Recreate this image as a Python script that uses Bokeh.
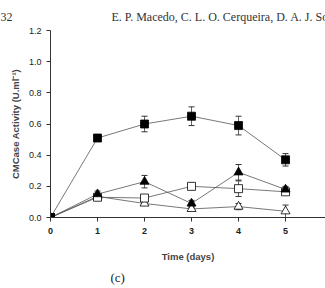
from bokeh.plotting import figure
from bokeh.models import ColumnDataSource, Whisker, Title, Range1d, FixedTicker, CustomJSTickFormatter
from bokeh.embed import file_html
from bokeh.resources import INLINE

days = [0, 1, 2, 3, 4, 5]
filled_sq = [0.0, 0.51, 0.60, 0.65, 0.59, 0.37]
filled_sq_err = [0.0, 0.02, 0.05, 0.06, 0.06, 0.04]
filled_tri = [0.0, 0.15, 0.23, 0.09, 0.29, 0.18]
filled_tri_err = [0.0, 0.02, 0.04, 0.02, 0.05, 0.02]
open_sq = [0.0, 0.13, 0.125, 0.20, 0.185, 0.165]
open_sq_err = [0.0, 0.01, 0.01, 0.02, 0.05, 0.01]
open_tri = [0.0, 0.135, 0.09, 0.055, 0.07, 0.04]
open_tri_err = [0.0, 0.01, 0.01, 0.01, 0.02, 0.04]
x_ticks = [0, 1, 2, 3, 4, 5]
y_ticks = [0.0, 0.2, 0.4, 0.6, 0.8, 1.0, 1.2]

p = figure(width=325, height=288, output_backend="svg", toolbar_location=None,
           x_range=Range1d(0, 5.85), y_range=Range1d(0, 1.2),
           min_border_left=50, min_border_right=0, min_border_top=29, min_border_bottom=70)
p.outline_line_color = None
p.xgrid.visible = False
p.ygrid.visible = False
p.background_fill_color = "white"
p.border_fill_color = "white"

for ax in (p.xaxis[0], p.yaxis[0]):
    ax.axis_line_color = "#333333"
    ax.major_tick_line_color = "#333333"
    ax.minor_tick_line_color = None
    ax.major_tick_in = 0
    ax.major_tick_out = 4
    ax.major_label_text_font = "Liberation Sans"
    ax.major_label_text_font_size = "9px"
    ax.major_label_text_color = "#222222"

p.xaxis.ticker = FixedTicker(ticks=x_ticks)
p.yaxis.ticker = FixedTicker(ticks=y_ticks)
p.yaxis.formatter = CustomJSTickFormatter(code="return tick.toFixed(1);")
p.xaxis.major_label_text_font_style = "bold"
p.yaxis.major_label_standoff = 5
p.xaxis.major_label_standoff = 6

p.xaxis.axis_label = "Time (days)"
p.xaxis.axis_label_text_font = "Liberation Sans"
p.xaxis.axis_label_text_font_style = "bold"
p.xaxis.axis_label_text_font_size = "9.5px"
p.xaxis.axis_label_standoff = 14
p.yaxis.axis_label = "CMCase Activity (U.ml\u207B\u00B9)"
p.yaxis.axis_label_text_font = "Liberation Sans"
p.yaxis.axis_label_text_font_style = "bold"
p.yaxis.axis_label_text_font_size = "9.5px"
p.yaxis.axis_label_standoff = 5

line_col = "#555555"
series = [
    (open_tri, open_tri_err, "triangle", "white", 9),
    (open_sq, open_sq_err, "square", "white", 8),
    (filled_tri, filled_tri_err, "triangle", "black", 9),
    (filled_sq, filled_sq_err, "square", "black", 8),
]
for vals, errs, marker, fill, size in series:
    src = ColumnDataSource(dict(x=days, y=vals,
                                lo=[v - e for v, e in zip(vals, errs)],
                                hi=[v + e for v, e in zip(vals, errs)]))
    p.line("x", "y", source=src, line_color=line_col, line_width=0.8)
    w = Whisker(source=src, base="x", lower="lo", upper="hi",
                line_color="#333333", line_width=0.8)
    w.upper_head.size = 6
    w.lower_head.size = 6
    w.upper_head.line_color = "#333333"
    w.lower_head.line_color = "#333333"
    p.add_layout(w)
    p.scatter("x", "y", source=src, marker=marker, size=size,
              fill_color=fill, line_color="black", line_width=0.8)

nb = "\u00A0"
header = "32" + nb * 33 + "E. P. Macedo, C. L. O. Cerqueira, D. A. J. Sou"
p.add_layout(Title(text=header, align="left", offset=-50, standoff=14,
                   text_font="Liberation Serif", text_font_size="12px",
                   text_font_style="normal", text_color="#333333"), "above")
p.add_layout(Title(text="(c)", align="left", offset=60, standoff=7,
                   text_font="Liberation Serif", text_font_size="13px",
                   text_font_style="normal", text_color="#222222"), "below")

open("out.html", "w").write(file_html(p, INLINE))
